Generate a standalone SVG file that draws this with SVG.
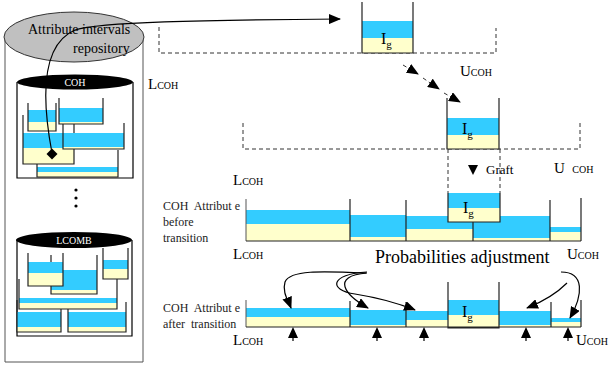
<svg xmlns="http://www.w3.org/2000/svg" width="609" height="370" viewBox="0 0 609 370">
<defs>
<marker id="ah" markerWidth="12" markerHeight="10" refX="11" refY="5" orient="auto" markerUnits="userSpaceOnUse"><path d="M0,0 L12,5 L0,10 z" fill="#000"/></marker>
<marker id="as" markerWidth="12" markerHeight="10" refX="11" refY="5" orient="auto" markerUnits="userSpaceOnUse"><path d="M0,0 L12,5 L0,10 z" fill="#000"/></marker>
</defs>
<style>
.b{fill:#33CCFF}
.y{fill:#FFFFCC}
.c{fill:none;stroke:#222;stroke-width:1.2}
.d{fill:none;stroke:#333;stroke-width:1;stroke-dasharray:4 3}
.k{fill:none;stroke:#000;stroke-width:1.2}
.g{fill:none;stroke:#555;stroke-width:1}
.t{font-family:"Liberation Serif","Times New Roman",serif;fill:#000}
.s{font-family:"Liberation Serif","Times New Roman",serif;fill:#222;font-size:12px;white-space:pre}
.w{font-family:"Liberation Serif","Times New Roman",serif;fill:#fff;font-size:10px}
.up{fill:#000}
</style>

<g id="repository">
  <path class="g" d="M5,40 V362 H143 V40"/>
  <ellipse cx="74" cy="37" rx="70" ry="25" fill="#C0C0C0" stroke="#333" stroke-width="1"/>
  <text class="t" x="28" y="34" font-size="14">Attribute intervals</text>
  <text class="t" x="73" y="53" font-size="14">repository</text>
</g>

<g id="coh-store">
  <path class="k" d="M17,82 V178 H133 V82"/>
  <ellipse cx="75" cy="82" rx="58" ry="7.5" fill="#000"/>
  <text class="w" x="75" y="86" text-anchor="middle">COH</text>
  <rect class="b" x="37" y="167" width="81" height="5"/><rect class="y" x="37" y="172" width="81" height="5"/><path class="c" d="M37,164 V177 H118 V150"/>
  <rect class="b" x="23" y="133" width="51" height="15"/><rect class="y" x="23" y="148" width="51" height="16"/><path class="c" d="M23,115 V164 H74 V123"/>
  <rect class="b" x="63" y="133" width="61" height="14"/><rect class="y" x="63" y="147" width="61" height="2"/><path class="c" d="M63,123 V149 H124 V123"/>
  <rect class="b" x="59" y="108" width="44" height="14"/><rect class="y" x="59" y="122" width="44" height="2"/><path class="c" d="M59,98 V124 H103 V98"/>
  <rect class="b" x="28" y="110" width="28" height="12"/><rect class="y" x="28" y="122" width="28" height="9"/><path class="c" d="M28,103 V131 H56 V103"/>
  <path d="M52,148.5 L57.5,154 L52,159.5 L46.5,154 z" fill="#000"/>
</g>

<g id="dots">
  <circle cx="76" cy="190" r="1.6" fill="#000"/>
  <circle cx="76" cy="198" r="1.6" fill="#000"/>
  <circle cx="76" cy="206" r="1.6" fill="#000"/>
</g>

<g id="lcomb-store">
  <path class="k" d="M17,240 V336 H132 V240"/>
  <ellipse cx="74" cy="240" rx="58" ry="8" fill="#000"/>
  <text class="w" x="74" y="244" text-anchor="middle">LCOMB</text>
  <rect class="b" x="17" y="312" width="44" height="15"/><rect class="y" x="17" y="327" width="44" height="5"/><path class="c" d="M17,300 V332 H61 V300"/>
  <rect class="b" x="68" y="312" width="58" height="15"/><rect class="y" x="68" y="327" width="58" height="5"/><path class="c" d="M68,302 V332 H126 V302"/>
  <rect class="b" x="19" y="298" width="98" height="5"/><rect class="y" x="19" y="303" width="98" height="6"/><path class="c" d="M19,279 V309 H117 V279"/>
  <rect class="b" x="51" y="270" width="46" height="20"/><rect class="y" x="51" y="290" width="46" height="4"/><path class="c" d="M51,255 V294 H97 V255"/>
  <rect class="b" x="28" y="262" width="35" height="11"/><rect class="y" x="28" y="273" width="35" height="13"/><path class="c" d="M28,253 V286 H63 V253"/>
  <rect class="b" x="103" y="260" width="25" height="9"/><rect class="y" x="103" y="269" width="25" height="10"/><path class="c" d="M103,248 V279 H128 V248"/>
</g>

<g id="top-range">
  <path class="d" d="M159,27 V53 H496 V28"/>
  <rect class="b" x="362" y="21" width="51" height="17"/><rect class="y" x="362" y="38" width="51" height="15"/>
  <path class="c" d="M362,2 V53 H413 V2"/>
  <text class="t" x="381" y="44" font-size="16">I<tspan font-size="11" dy="4">g</tspan></text>
  <text class="t" x="148" y="89" font-size="15">L<tspan font-size="10">COH</tspan></text>
  <text class="t" x="460" y="76" font-size="15">U<tspan font-size="10">COH</tspan></text>
</g>

<g id="mid-range">
  <path class="d" d="M243,123 V149 H580 V123"/>
  <rect class="b" x="447" y="118" width="52" height="17"/><rect class="y" x="447" y="135" width="52" height="14"/>
  <path class="c" d="M447,98 V149 H499 V98"/>
  <text class="t" x="462" y="134" font-size="16">I<tspan font-size="11" dy="4">g</tspan></text>
  <path class="d" d="M448,149 V193 M500,149 V193"/>
  <path d="M468,165 L478,165 L473,175 z" fill="#000"/>
  <text class="t" x="486" y="174" font-size="13">Graft</text>
  <text class="t" x="554" y="173" font-size="15" style="white-space:pre">U  <tspan font-size="10">COH</tspan></text>
</g>

<g id="before-row">
  <text class="s" x="163" y="210">COH  Attribut e</text>
  <text class="s" x="163" y="226">before</text>
  <text class="s" x="163" y="242">transition</text>
  <text class="t" x="233" y="185" font-size="15">L<tspan font-size="10">COH</tspan></text>
  <text class="t" x="233" y="259" font-size="15">L<tspan font-size="10">COH</tspan></text>
  <text class="t" x="567" y="259" font-size="15">U<tspan font-size="10">COH</tspan></text>
  <rect class="b" x="246" y="210" width="104" height="14"/><rect class="y" x="246" y="224" width="104" height="17"/>
  <rect class="b" x="350" y="215" width="56" height="22"/><rect class="y" x="350" y="237" width="56" height="4"/>
  <rect class="b" x="406" y="216" width="67" height="13"/><rect class="y" x="406" y="229" width="67" height="12"/>
  <rect class="b" x="473" y="216" width="77" height="22"/><rect class="y" x="473" y="238" width="77" height="3"/>
  <rect class="b" x="550" y="227" width="31" height="5"/><rect class="y" x="550" y="232" width="31" height="9"/>
  <path class="g" d="M246,199 V241"/>
  <path class="c" d="M246,241 H581 M350,199 V241 M406,200 V241 M473,222 V241 M550,200 V241 M581,198 V241"/>
  <rect class="b" x="448" y="193" width="52" height="15"/><rect class="y" x="448" y="208" width="52" height="14"/>
  <path class="c" d="M448,193 V222 H500 V193"/>
  <text class="t" x="463" y="213" font-size="16">I<tspan font-size="11" dy="4">g</tspan></text>
</g>

<g id="adjust-label">
  <text class="t" x="375" y="263" font-size="18">Probabilities adjustment</text>
</g>

<g id="after-row">
  <text class="s" x="163" y="312">COH  Attribut e</text>
  <text class="s" x="163" y="328">after  transition</text>
  <text class="t" x="233" y="345" font-size="15">L<tspan font-size="10">COH</tspan></text>
  <text class="t" x="576" y="345" font-size="15">U<tspan font-size="10">COH</tspan></text>
  <rect class="b" x="246" y="308" width="104" height="9"/><rect class="y" x="246" y="317" width="104" height="10"/>
  <rect class="b" x="350" y="310" width="56" height="15"/><rect class="y" x="350" y="325" width="56" height="2"/>
  <rect class="b" x="406" y="311" width="42" height="9"/><rect class="y" x="406" y="320" width="42" height="7"/>
  <rect class="b" x="448" y="300" width="51" height="15"/><rect class="y" x="448" y="315" width="51" height="13"/>
  <rect class="b" x="499" y="311" width="52" height="14"/><rect class="y" x="499" y="325" width="52" height="2"/>
  <rect class="b" x="551" y="318" width="30" height="4"/><rect class="y" x="551" y="322" width="30" height="5"/>
  <path class="g" d="M246,300 V327"/>
  <path class="c" d="M246,327 H581 M350,301 V327 M406,302 V327 M448,282 V328 H499 V282 M551,302 V327 M581,300 V327"/>
  <text class="t" x="462" y="317" font-size="16">I<tspan font-size="11" dy="4">g</tspan></text>
  <g class="up">
    <path d="M293,327 L298,338 L288,338 z M292.4,338 h1.2 v3 h-1.2 z"/>
    <path d="M377,327 L382,338 L372,338 z M376.4,338 h1.2 v3 h-1.2 z"/>
    <path d="M424,327 L429,338 L419,338 z M423.4,338 h1.2 v3 h-1.2 z"/>
    <path d="M526,327 L531,338 L521,338 z M525.4,338 h1.2 v3 h-1.2 z"/>
    <path d="M568,327 L573,338 L563,338 z M567.4,338 h1.2 v3 h-1.2 z"/>
  </g>
</g>

<g id="connectors">
  <path class="k" d="M52,153 C42,100 40,45 75,30 C100,22 200,20 340,19" marker-end="url(#ah)"/>
  <path class="d" d="M403,65 L418,74" marker-end="url(#as)"/>
  <path class="d" d="M423,78 L439,89" marker-end="url(#as)"/>
  <path class="d" d="M444,93 L460,102" marker-end="url(#as)"/>
  <path class="k" d="M366,273 C320,271 290,270 285,282 C282,292 288,300 291,308" marker-end="url(#as)"/>
  <path class="k" d="M367,273 C330,276 345,295 368,308" marker-end="url(#as)"/>
  <path class="k" d="M367,272 C330,274 328,290 355,294 C380,298 400,304 415,310" marker-end="url(#as)"/>
  <path class="k" d="M561,272 C585,272 583,295 570,318" marker-end="url(#as)"/>
  <path class="k" d="M567,283 C555,295 542,302 527,308" marker-end="url(#as)"/>
</g>
</svg>
